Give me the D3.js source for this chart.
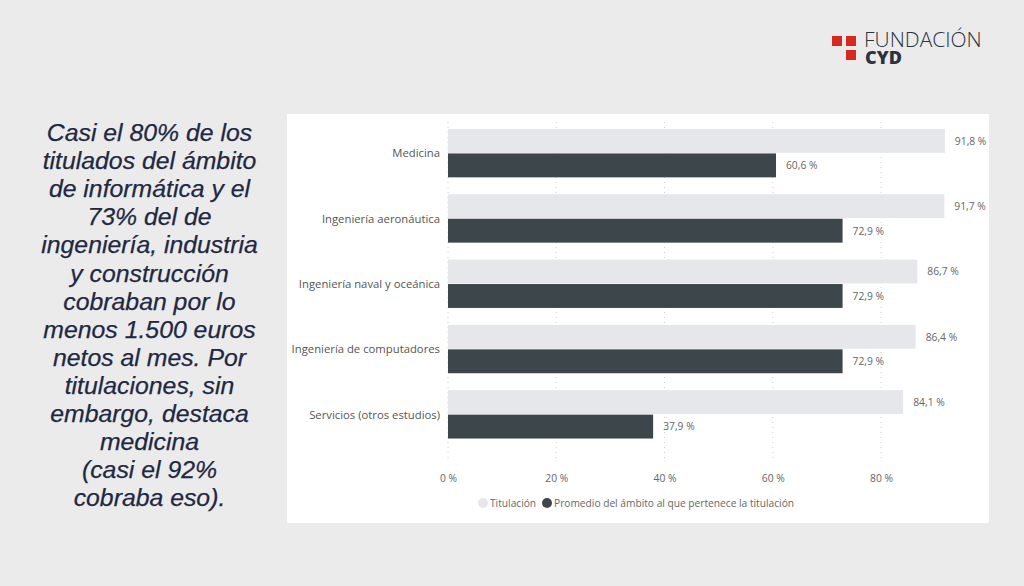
<!DOCTYPE html>
<html>
<head>
<meta charset="utf-8">
<script src="https://cdn.jsdelivr.net/npm/d3@7"></script>
<style>
  html, body { margin: 0; padding: 0; background: #ebebeb; }
  svg { display: block; }
</style>
</head>
<body>
<div id="page"></div>
<script>
// data
const categories = ['Medicina', 'Ingeniería aeronáutica', 'Ingeniería naval y oceánica',
                    'Ingeniería de computadores', 'Servicios (otros estudios)'];
const series = ['Titulación', 'Promedio del ámbito al que pertenece la titulación'];
const titulacion = [91.8, 91.7, 86.7, 86.4, 84.1];
const promedio = [60.6, 72.9, 72.9, 72.9, 37.9];
const xTicks = [0, 20, 40, 60, 80];
const headline = ['Casi el 80% de los', 'titulados del ámbito', 'de informática y el',
                  '73% del de', 'ingeniería, industria', 'y construcción',
                  'cobraban por lo', 'menos 1.500 euros', 'netos al mes. Por',
                  'titulaciones, sin', 'embargo, destaca', 'medicina',
                  '(casi el 92%', 'cobraba eso).'];

const width = 1024;
const height = 586;
const colors = ['#e6e7eb', '#3c464b'];
const labelFont = '"Segoe UI", "Open Sans", sans-serif';

const svg = d3.select('#page')
              .append('svg')
              .attr('width', width)
              .attr('height', height);

svg.append('rect')
   .attr('width', width)
   .attr('height', height)
   .attr('fill', '#ebebeb');

// logo
const logo = svg.append('g');
[[832, 36], [846, 36], [846, 50]].forEach(p => {
    logo.append('rect')
        .attr('x', p[0]).attr('y', p[1])
        .attr('width', 10).attr('height', 10)
        .attr('fill', '#d42a20');
});
logo.append('text')
    .attr('x', 864).attr('y', 47)
    .attr('font-family', '"Open Sans", sans-serif')
    .attr('font-weight', 300)
    .attr('font-size', 21)
    .attr('fill', '#2b3340')
    .text('FUNDACIÓN');
logo.append('text')
    .attr('x', 865).attr('y', 64)
    .attr('font-family', '"Open Sans", sans-serif')
    .attr('font-weight', 800)
    .attr('font-size', 18)
    .attr('fill', '#2b3340')
    .text('CYD');

// headline on the left
svg.append('text')
   .attr('font-family', '"Liberation Sans", Arial, sans-serif')
   .attr('font-style', 'italic')
   .attr('font-size', 24.8)
   .attr('fill', '#1e2843')
   .attr('stroke', '#1e2843')
   .attr('stroke-width', 0.25)
   .attr('text-anchor', 'middle')
   .selectAll('tspan')
   .data(headline)
   .enter()
   .append('tspan')
   .attr('x', 149.5)
   .attr('y', (d, i) => 141 + i * 28.1)
   .text(d => d);

// white panel
svg.append('rect')
   .attr('x', 287).attr('y', 114)
   .attr('width', 702).attr('height', 409)
   .attr('fill', '#ffffff');

const x = d3.scaleLinear()
            .domain([0, 80])
            .range([448, 881]);

const y = d3.scaleBand()
            .domain(categories)
            .range([120.8, 447.3])
            .paddingInner(0.25)
            .paddingOuter(0.125);

const ySub = d3.scaleBand()
               .domain(series)
               .range([0, y.bandwidth()]);

// dotted gridlines
svg.append('g')
   .selectAll('line')
   .data(xTicks)
   .enter()
   .append('line')
   .attr('x1', d => x(d)).attr('x2', d => x(d))
   .attr('y1', 122).attr('y2', 462)
   .attr('stroke', '#d0d0d0')
   .attr('stroke-width', 1)
   .attr('stroke-dasharray', '1,4');

// x axis labels
const xAxis = svg.append('g')
                 .attr('transform', 'translate(0,472)')
                 .call(d3.axisBottom(x).tickValues(xTicks).tickSize(0).tickFormat(d => d + ' %'));
xAxis.select('.domain').remove();
xAxis.selectAll('text')
     .attr('font-family', labelFont)
     .attr('font-size', 10.3)
     .attr('fill', '#666666');

// category labels
svg.append('g')
   .selectAll('text')
   .data(categories)
   .enter()
   .append('text')
   .attr('x', 440)
   .attr('y', d => y(d) + y.bandwidth() / 2)
   .attr('dy', '0.35em')
   .attr('text-anchor', 'end')
   .attr('font-family', labelFont)
   .attr('font-size', 11.3)
   .attr('fill', '#555555')
   .text(d => d);

const rows = categories.map((c, i) => ({ cat: c, values: [titulacion[i], promedio[i]] }));

const group = svg.append('g')
                 .selectAll('g')
                 .data(rows)
                 .enter()
                 .append('g')
                 .attr('transform', d => `translate(0,${y(d.cat)})`);

const cell = group.selectAll('g')
                  .data(d => d.values.map((v, j) => ({ series: series[j], value: v, j: j })))
                  .enter()
                  .append('g');

cell.append('rect')
    .attr('x', x(0))
    .attr('y', d => ySub(d.series))
    .attr('width', d => x(d.value) - x(0))
    .attr('height', ySub.bandwidth() - 0.6)
    .attr('fill', d => colors[d.j]);

cell.append('text')
    .attr('x', d => x(d.value) + 10)
    .attr('y', d => ySub(d.series) + ySub.bandwidth() / 2)
    .attr('dy', '0.35em')
    .attr('font-family', labelFont)
    .attr('font-size', 10.3)
    .attr('fill', '#666666')
    .text(d => d3.format('.1f')(d.value).replace('.', ',') + ' %');

// legend
const legend = svg.append('g')
                  .attr('transform', 'translate(0,503)');
const legendX = [483, 547];
series.forEach((s, i) => {
    legend.append('circle')
          .attr('cx', legendX[i]).attr('cy', 0)
          .attr('r', 5)
          .attr('fill', colors[i]);
    legend.append('text')
          .attr('x', legendX[i] + 7).attr('y', 0)
          .attr('dy', '0.35em')
          .attr('font-family', labelFont)
          .attr('font-size', 10.2)
          .attr('fill', '#666666')
          .text(s);
});
</script>
</body>
</html>
